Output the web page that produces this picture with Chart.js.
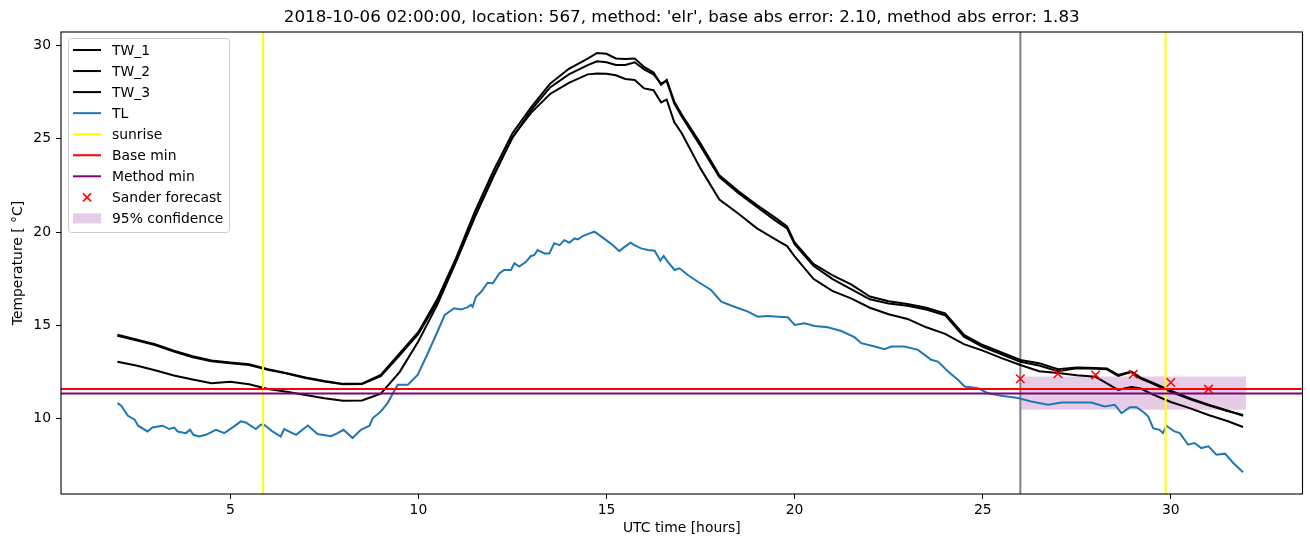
<!DOCTYPE html>
<html>
<head>
<meta charset="utf-8">
<script src="https://cdn.jsdelivr.net/npm/chart.js@4.4.1/dist/chart.umd.min.js"></script>
<style>
  html, body { margin: 0; padding: 0; background: #fff; }
</style>
</head>
<body>
<canvas id="chart" width="1310" height="547"></canvas>
<script>
const titleText = "2018-10-06 02:00:00, location: 567, method: 'elr', base abs error: 2.10, method abs error: 1.83";

// hours (UTC, counted from the start of 2018-10-05)
const twHours = [2, 2.5, 3, 3.5, 4, 4.5, 5, 5.5, 6, 6.5, 7, 7.5, 8, 8.5, 9, 9.5, 10, 10.5, 11, 11.5,
  12, 12.5, 13, 13.5, 14, 14.5, 14.75, 15, 15.25, 15.5, 15.75, 16, 16.25, 16.45, 16.6, 16.8, 17, 17.5,
  18, 18.5, 19, 19.5, 19.8, 20, 20.5, 21, 21.5, 22, 22.5, 23, 23.5, 24, 24.5, 25, 25.5, 26, 26.5, 27,
  27.5, 28, 28.3, 28.6, 28.95, 29.2, 29.5, 30, 30.5, 31, 31.5, 31.92];

const tw1 = [14.5, 14.25, 14.0, 13.65, 13.35, 13.12, 13.02, 12.92, 12.66, 12.44, 12.21, 12.02, 11.87, 11.88,
  12.35, 13.5, 14.65, 16.4, 18.6, 21.1, 23.3, 25.3, 26.7, 27.95, 28.75, 29.3, 29.6, 29.55, 29.3, 29.28,
  29.3, 28.85, 28.55, 27.9, 28.15, 27.0, 26.3, 24.75, 23.05, 22.2, 21.45, 20.75, 20.3, 19.45, 18.3, 17.7,
  17.2, 16.55, 16.3, 16.15, 15.95, 15.65, 14.5, 13.95, 13.55, 13.15, 12.98, 12.65, 12.75, 12.72, 12.7,
  12.35, 12.53, 12.2, 11.95, 11.5, 11.1, 10.75, 10.45, 10.16];

const tw2 = [14.45, 14.2, 13.95, 13.6, 13.3, 13.08, 12.98, 12.88, 12.63, 12.42, 12.18, 12.0, 11.85, 11.86,
  12.28, 13.4, 14.55, 16.25, 18.45, 20.85, 23.05, 25.05, 26.55, 27.75, 28.45, 28.95, 29.15, 29.1, 28.95,
  28.95, 29.1, 28.72, 28.45, 27.95, 28.1, 26.9, 26.2, 24.6, 22.95, 22.1, 21.35, 20.6, 20.2, 19.35, 18.2,
  17.5, 16.95, 16.4, 16.18, 16.05, 15.85, 15.55, 14.4, 13.85, 13.45, 13.05, 12.85, 12.55, 12.7, 12.68,
  12.65, 12.3, 12.5, 12.15, 11.9, 11.45, 11.05, 10.72, 10.42, 10.2];

const tw3 = [13.05, 12.85, 12.6, 12.32, 12.1, 11.9, 11.98, 11.85, 11.6, 11.45, 11.27, 11.1, 10.96, 10.98,
  11.35, 12.5, 14.15, 16.1, 18.4, 20.8, 23.0, 25.1, 26.4, 27.4, 28.0, 28.45, 28.5, 28.48, 28.4, 28.2,
  28.15, 27.7, 27.6, 26.95, 27.1, 25.9, 25.3, 23.4, 21.75, 21.0, 20.2, 19.6, 19.25, 18.7, 17.5, 16.85,
  16.45, 15.95, 15.6, 15.35, 14.9, 14.55, 14.0, 13.65, 13.25, 12.88, 12.55, 12.45, 12.33, 12.25, 11.9,
  11.55, 11.7, 11.62, 11.32, 10.9, 10.57, 10.2, 9.88, 9.56];

const tlHours = [2.0, 2.1, 2.28, 2.46, 2.55, 2.8, 2.93, 3.2, 3.38, 3.51, 3.6, 3.82, 3.93, 4.02, 4.17, 4.35,
  4.62, 4.84, 5.1, 5.28, 5.41, 5.68, 5.81, 5.9, 6.12, 6.34, 6.43, 6.75, 7.06, 7.32, 7.68, 7.85, 8.01, 8.25,
  8.47, 8.7, 8.79, 9.0, 9.18, 9.45, 9.72, 9.98, 10.25, 10.47, 10.7, 10.95, 11.13, 11.31, 11.4, 11.44, 11.53,
  11.67, 11.84, 11.98, 12.15, 12.28, 12.46, 12.55, 12.68, 12.86, 12.99, 13.08, 13.17, 13.35, 13.48, 13.61,
  13.75, 13.88, 14.01, 14.15, 14.24, 14.37, 14.55, 14.68, 14.81, 14.99, 15.17, 15.34, 15.48, 15.64, 15.74,
  15.92, 16.1, 16.28, 16.43, 16.52, 16.63, 16.81, 16.94, 17.16, 17.43, 17.78, 18.05, 18.4, 18.76, 19.02,
  19.29, 19.56, 19.82, 20.0, 20.26, 20.53, 20.88, 21.24, 21.59, 21.77, 22.13, 22.39, 22.57, 22.92, 23.28,
  23.63, 23.81, 24.08, 24.34, 24.52, 24.87, 25.14, 25.5, 25.94, 26.29, 26.74, 27.09, 27.89, 28.24, 28.51,
  28.69, 28.91, 29.09, 29.31, 29.4, 29.53, 29.7, 29.79, 29.88, 30.1, 30.24, 30.46, 30.63, 30.81, 31.0,
  31.21, 31.44, 31.66, 31.92];

const tl = [10.84, 10.7, 10.16, 9.95, 9.63, 9.32, 9.53, 9.63, 9.45, 9.53, 9.32, 9.23, 9.41, 9.14, 9.05, 9.14,
  9.41, 9.23, 9.59, 9.86, 9.8, 9.45, 9.68, 9.68, 9.32, 9.05, 9.45, 9.14, 9.64, 9.18, 9.07, 9.23, 9.41, 8.97,
  9.41, 9.63, 10.04, 10.39, 10.84, 11.82, 11.82, 12.35, 13.51, 14.5, 15.56, 15.92, 15.85, 15.98, 16.1, 16.0,
  16.54, 16.8, 17.29, 17.26, 17.79, 17.97, 17.97, 18.33, 18.15, 18.41, 18.72, 18.77, 19.04, 18.86, 18.86,
  19.4, 19.3, 19.57, 19.43, 19.66, 19.61, 19.79, 19.93, 20.02, 19.84, 19.57, 19.3, 18.98, 19.21, 19.43,
  19.3, 19.13, 19.04, 19.0, 18.47, 18.72, 18.41, 17.97, 18.06, 17.7, 17.34, 16.9, 16.27, 16.0, 15.74, 15.47,
  15.51, 15.47, 15.44, 15.03, 15.12, 14.97, 14.9, 14.7, 14.37, 14.05, 13.87, 13.73, 13.87, 13.87, 13.69,
  13.16, 13.06, 12.53, 12.09, 11.73, 11.64, 11.37, 11.23, 11.11, 10.93, 10.75, 10.87, 10.87, 10.66, 10.75,
  10.3, 10.62, 10.62, 10.3, 10.12, 9.5, 9.41, 9.23, 9.63, 9.32, 9.23, 8.61, 8.7, 8.43, 8.52,
  8.07, 8.13, 7.63, 7.13];

const sunriseHours = [5.87, 29.86];
const forecastTime = 26;
const baseMin = 11.6;
const methodMin = 11.35;

const forecastHours = [26, 27, 28, 29, 30, 31];
const forecastValues = [12.14, 12.41, 12.35, 12.38, 11.94, 11.59];

const confidenceHours = [26, 32];
const confidenceUpper = [12.26, 12.26];
const confidenceLower = [10.48, 10.48];

const xTicks = [5, 10, 15, 20, 25, 30];
const yTicks = [10, 15, 20, 25, 30];
const xLimits = [0.5, 33.5];
const yLimits = [5.97, 30.72];

const FONT = "'DejaVu Sans', sans-serif";

function series(hours, values) {
  return hours.map((h, i) => ({ x: h, y: values[i] }));
}

function vline(x) {
  return [{ x: x, y: yLimits[0] }, { x: x, y: yLimits[1] }];
}

function hline(y) {
  return [{ x: xLimits[0], y: y }, { x: xLimits[1], y: y }];
}

function lineSet(label, data, color, order, handle) {
  return {
    label: label,
    data: data,
    borderColor: color,
    backgroundColor: color,
    borderWidth: 2,
    pointRadius: 0,
    tension: 0,
    fill: false,
    order: order,
    handle: handle || 'line',
  };
}

const datasets = [
  lineSet('TW_1', series(twHours, tw1), '#000000', 5),
  lineSet('TW_2', series(twHours, tw2), '#000000', 5),
  lineSet('TW_3', series(twHours, tw3), '#000000', 5),
  lineSet('TL', series(tlHours, tl), '#1f77b4', 4),
  lineSet('sunrise', vline(sunriseHours[0]), '#ffff00', 3),
  lineSet('_sunrise', vline(sunriseHours[1]), '#ffff00', 3),
  lineSet('Base min', hline(baseMin), '#ff0000', 2),
  lineSet('Method min', hline(methodMin), '#800080', 1),
  {
    label: 'Sander forecast',
    data: series(forecastHours, forecastValues),
    showLine: false,
    pointStyle: 'crossRot',
    pointRadius: 6,
    pointBorderWidth: 1.5,
    pointBorderColor: '#ff0000',
    borderColor: '#ff0000',
    backgroundColor: '#ff0000',
    order: 0,
    handle: 'cross',
  },
  {
    label: '95% confidence',
    data: series(confidenceHours, confidenceUpper),
    borderWidth: 0,
    pointRadius: 0,
    borderColor: 'rgba(0,0,0,0)',
    backgroundColor: 'rgba(128,0,128,0.2)',
    fill: '+1',
    order: 7,
    handle: 'patch',
  },
  {
    label: '_lower',
    data: series(confidenceHours, confidenceLower),
    borderWidth: 0,
    pointRadius: 0,
    borderColor: 'rgba(0,0,0,0)',
    fill: false,
    order: 7,
  },
  lineSet('_forecast', vline(forecastTime), '#808080', 6),
];

const overlay = {
  id: 'overlay',
  afterDraw(chart) {
    const ctx = chart.ctx;
    const area = chart.chartArea;
    ctx.save();

    // axes frame
    ctx.strokeStyle = '#000000';
    ctx.lineWidth = 1.1;
    ctx.strokeRect(area.left, area.top, area.right - area.left, area.bottom - area.top);

    // title over the axes
    ctx.fillStyle = '#000000';
    ctx.font = `16.7px ${FONT}`;
    ctx.textAlign = 'center';
    ctx.textBaseline = 'middle';
    ctx.fillText(titleText, (area.left + area.right) / 2, 18);

    // legend
    const items = chart.data.datasets.filter((ds) => !ds.label.startsWith('_'));
    const boxX = area.left + 7.5;
    const boxY = area.top + 6.5;
    const boxW = 161;
    const boxH = 194;
    ctx.beginPath();
    ctx.roundRect(boxX, boxY, boxW, boxH, 3);
    ctx.fillStyle = 'rgba(255,255,255,0.8)';
    ctx.fill();
    ctx.strokeStyle = '#cccccc';
    ctx.lineWidth = 1;
    ctx.stroke();

    ctx.font = `13.9px ${FONT}`;
    ctx.textAlign = 'left';
    items.forEach((ds, i) => {
      const y = area.top + 18 + i * 21.05;
      const x0 = area.left + 12;
      const x1 = area.left + 40;
      if (ds.handle === 'line') {
        ctx.strokeStyle = ds.borderColor;
        ctx.lineWidth = 2;
        ctx.beginPath();
        ctx.moveTo(x0, y);
        ctx.lineTo(x1, y);
        ctx.stroke();
      } else if (ds.handle === 'cross') {
        const cx = (x0 + x1) / 2;
        ctx.strokeStyle = ds.pointBorderColor;
        ctx.lineWidth = 1.5;
        ctx.beginPath();
        ctx.moveTo(cx - 4, y - 4);
        ctx.lineTo(cx + 4, y + 4);
        ctx.moveTo(cx + 4, y - 4);
        ctx.lineTo(cx - 4, y + 4);
        ctx.stroke();
      } else if (ds.handle === 'patch') {
        ctx.fillStyle = ds.backgroundColor;
        ctx.fillRect(x0, y - 5, x1 - x0, 10);
      }
      ctx.fillStyle = '#000000';
      ctx.fillText(ds.label, area.left + 51, y + 1);
    });

    ctx.restore();
  },
};

const tickFont = { family: FONT, size: 13.9 };

new Chart(document.getElementById('chart'), {
  type: 'line',
  data: { datasets: datasets },
  plugins: [overlay],
  options: {
    responsive: false,
    animation: false,
    devicePixelRatio: 1,
    layout: { padding: { top: 32, right: 5, left: 0, bottom: 0 } },
    plugins: {
      legend: { display: false },
      tooltip: { enabled: false },
      title: { display: false },
    },
    scales: {
      x: {
        type: 'linear',
        min: xLimits[0],
        max: xLimits[1],
        afterBuildTicks: (scale) => { scale.ticks = xTicks.map((v) => ({ value: v })); },
        afterFit: (scale) => { scale.height = 53; },
        border: { display: false },
        grid: { drawOnChartArea: false, drawTicks: true, tickLength: 5, color: '#000000', lineWidth: 1 },
        ticks: { font: tickFont, color: '#000000', padding: 3, maxRotation: 0, autoSkip: false },
        title: { display: true, text: 'UTC time [hours]', font: tickFont, color: '#000000', padding: { top: 0, bottom: 10 } },
      },
      y: {
        type: 'linear',
        min: yLimits[0],
        max: yLimits[1],
        afterBuildTicks: (scale) => { scale.ticks = yTicks.map((v) => ({ value: v })); },
        afterFit: (scale) => { scale.width = 61; },
        border: { display: false },
        grid: { drawOnChartArea: false, drawTicks: true, tickLength: 5, color: '#000000', lineWidth: 1 },
        ticks: { font: tickFont, color: '#000000', padding: 5, autoSkip: false },
        title: { display: true, text: 'Temperature [ °C]', font: tickFont, color: '#000000', padding: { top: 10, bottom: 0 } },
      },
    },
  },
});
</script>
</body>
</html>
